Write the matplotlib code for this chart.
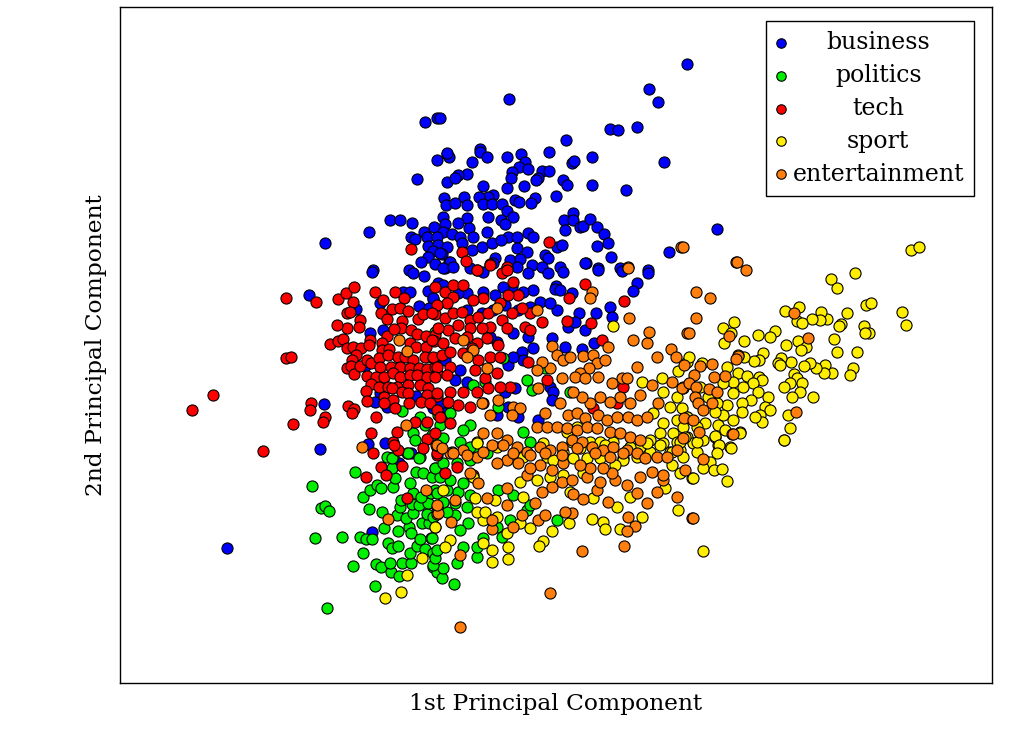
import matplotlib
matplotlib.use("Agg")
import matplotlib.pyplot as plt
import numpy as np

# Principal-component scores (PC1, PC2); PC2 axis shown inverted
categories = ["business", "politics", "tech", "sport", "entertainment"]
colors = ["#0000ff", "#00ee00", "#ff0000", "#ffee00", "#ff7f0e"]

business = [
    (425,122),(437,118),(447,154),(449,157),(437,160),(417,179),(447,182),(444,198),(446,205),(443,217),
    (445,224),(390,220),(400,220),(412,223),(369,232),(325,243),(424,232),(434,227),(443,232),(411,237),
    (415,239),(427,237),(437,237),(428,246),(438,245),(447,247),(433,251),(442,254),(428,257),(421,262),
    (435,264),(449,262),(373,270),(409,270),(445,268),
    (687,64),(649,89),(658,102),(509,99),(440,118),(610,129),(618,130),(637,127),(566,140),(480,149),
    (480,152),(487,157),(447,153),(472,162),(507,157),(521,154),(525,162),(549,152),(572,163),(574,161),
    (592,157),(664,162),(519,167),(528,169),(512,172),(511,178),(542,171),(549,171),(538,178),(536,180),
    (467,174),(458,175),(455,178),(483,186),(507,188),(524,186),(563,180),(567,185),(592,185),(626,190),
    (556,196),(535,198),(531,203),(515,200),(519,202),(493,195),(488,197),(479,197),(483,204),(492,204),
    (502,204),(464,197),(467,205),(455,203),(507,211),(513,217),(488,217),(501,220),(467,218),(458,223),
    (469,228),(505,224),(573,213),(564,220),(573,220),(580,227),(583,226),(590,219),(565,230),(597,227),
    (604,234),(608,243),(597,246),(611,257),(586,263),(717,229),(669,252),(487,232),(508,237),(517,237),
    (528,233),(533,237),(452,234),(460,237),(473,237),(462,243),(482,247),(492,243),(501,240),(517,248),
    (527,252),(557,247),(562,245),(545,255),(548,258),(440,253),(472,250),(450,262),(495,258),(510,260),
    (520,259),(532,265),(560,267),(598,268),(648,270),(620,268),
    (372,272),(413,273),(424,276),(309,295),(356,309),(380,303),(403,292),(410,292),(428,291),(433,299),
    (419,306),(429,308),(383,330),(370,333),(365,366),(380,393),(375,402),(387,407),(324,404),(320,449),
    (368,444),(385,443),(416,396),(433,408),(437,360),(438,283),
    (443,268),(453,267),(470,268),(483,272),(493,263),(507,268),(517,267),(528,273),(542,267),(548,273),
    (563,272),(585,263),(598,270),(622,271),(648,273),(637,283),(633,291),(556,286),(555,289),(560,290),
    (572,293),(533,290),(523,292),(512,287),(503,287),(495,295),(483,292),(467,293),(458,293),(433,298),
    (443,285),(540,302),(557,310),(550,303),(530,307),(518,310),(505,305),(493,310),(482,313),(467,310),
    (579,313),(596,313),(610,307),(612,317),(568,327),(585,330),(575,322),(552,338),(565,347),(582,349),
    (594,343),(513,333),(528,337),(533,348),(522,352),(523,360),(508,365),(513,357),(497,342),(490,337),
    (445,360),(460,370),(455,380),(467,382),(515,388),(505,392),(550,387),(553,392),(518,417),(508,407),
    (497,415),(552,400),(538,420),(445,413),(433,400),(440,403),
    (411,453),(399,463),(372,532),(227,548),
]

politics = [
    (402,411),(420,417),(413,433),(393,457),(407,453),(420,457),(387,457),(425,425),(440,425),(415,440),
    (503,358),(485,382),(473,385),(527,380),(532,390),(545,368),(498,407),(438,415),(450,413),(470,425),
    (432,435),(443,438),(460,442),(475,447),(487,453),(523,432),(530,442),(570,392),(435,332),(463,430),
    (355,472),(312,486),(363,497),(369,509),(321,508),(325,506),(329,511),(315,538),(342,537),(360,537),
    (366,539),(372,539),(363,553),(353,566),(375,586),(327,608),(376,564),(381,567),(391,572),(399,576),
    (390,563),(402,563),(411,563),(388,543),(392,548),(398,546),(410,553),(417,546),(425,549),(433,553),
    (433,567),(437,572),(384,528),(398,531),(409,527),(411,533),(420,539),(431,538),(382,512),(397,515),
    (406,518),(413,513),(422,523),(429,523),(427,514),(400,507),(412,504),(419,505),(428,503),(401,500),
    (413,493),(421,497),(431,493),(435,490),(410,483),(393,487),(370,490),(377,485),(381,488),(395,478),
    (392,468),(416,472),(423,473),(432,477),(435,468),(419,458),(408,453),(392,458),
    (454,584),(442,578),(443,568),(433,565),(435,558),(437,550),(457,563),(463,547),(477,557),(477,547),
    (483,538),(468,523),(460,530),(455,515),(447,512),(433,517),(432,538),(443,502),(455,503),(467,507),
    (470,495),(458,492),(447,490),(437,493),(463,483),(450,480),(440,477),(435,468),(443,463),(457,463),
    (470,460),(452,452),(470,447),(437,447),(497,527),(502,537),(510,520),(527,510),(530,505),(557,520),
    (498,490),(513,495),
]

tech = [
    (549,242),(462,252),(466,261),(490,264),(507,267),(477,270),(411,249),
    (286,298),(316,302),(338,299),(346,293),(354,287),(353,302),(375,292),(383,300),(395,292),(404,298),
    (347,313),(350,312),(360,320),(359,327),(347,328),(337,325),(381,313),(387,319),(392,309),(400,308),
    (408,311),(402,321),(418,319),(423,314),(435,314),(401,328),(411,330),(417,334),(426,336),(435,335),
    (387,336),(394,329),(330,344),(338,341),(343,339),(347,348),(353,347),(361,348),(370,340),(369,345),
    (382,343),(382,350),(389,349),(410,343),(416,347),(426,347),(434,341),(356,355),(352,360),(347,368),
    (351,366),(354,374),(360,366),(367,360),(371,363),(379,358),(388,355),(398,357),(405,357),(413,360),
    (425,357),(433,358),(380,367),(391,367),(400,367),(410,368),(419,368),(427,369),(435,367),(367,376),
    (376,377),(384,377),(393,373),(400,377),(410,375),(417,375),(427,377),(437,373),(371,384),(379,387),
    (388,387),(397,387),(408,385),(420,385),(428,388),(366,391),(392,388),(402,392),(408,393),(427,395),
    (437,396),(384,397),(393,400),(409,403),(421,402),(430,403),(367,401),(384,403),(395,408),(348,406),
    (354,409),(352,413),(311,403),(310,410),(325,417),(323,422),(293,424),(286,358),(291,357),(213,395),
    (192,410),(263,451),(376,417),(415,422),(427,422),(371,433),(397,432),(393,442),(427,439),(435,433),
    (373,453),(398,450),(423,448),
    (435,287),(445,292),(453,285),(463,285),(477,270),(490,265),(502,273),(507,270),(513,282),(518,295),
    (508,295),(483,298),(473,300),(453,297),(447,303),(437,305),(432,313),(445,318),(453,313),(462,312),
    (470,320),(478,317),(488,313),(500,303),(512,313),(502,320),(490,327),(482,328),(470,328),(458,325),
    (448,330),(438,328),(432,340),(443,343),(455,338),(467,337),(477,343),(487,338),(498,345),(507,328),
    (525,327),(542,322),(530,313),(433,357),(442,355),(450,352),(463,353),(472,348),(490,357),(478,360),
    (500,357),(437,367),(450,367),(435,377),(447,375),(475,370),(485,378),(497,373),(510,387),(500,387),
    (488,388),(477,392),(463,392),(450,392),(437,393),(458,405),(470,407),(483,403),(448,402),(437,410),
    (450,423),(440,417),(528,362),(522,308),(585,284),(569,298),(567,321),(591,323),(624,301),(602,340),
    (547,380),(623,387),(617,403),(593,408),(530,330),
    (394,445),(437,455),(381,467),(386,475),(366,477),(402,466),(407,498),
    (437,453),(445,473),(457,467),(473,475),
]

sport = [
    (613,326),(678,371),(687,362),(662,378),(642,382),(663,392),(677,397),(683,387),(670,407),(682,408),
    (653,413),(663,423),(677,420),(687,417),(660,433),(673,433),(650,440),(663,443),(677,442),(687,437),
    (650,452),(670,452),(680,450),(572,442),(580,448),(563,452),(590,442),(600,442),(613,442),(630,447),
    (640,447),(567,432),(577,427),(477,442),(497,447),(547,457),(623,458),(637,457),
    (911,250),(919,247),(855,273),(831,279),(837,288),(866,305),(871,303),(902,312),(906,325),(864,326),
    (869,333),(865,333),(847,313),(841,324),(839,326),(827,319),(821,312),(820,320),(812,319),(799,307),
    (797,321),(802,323),(785,311),(834,339),(837,352),(857,352),(853,368),(850,375),(832,373),(825,365),
    (824,373),(816,368),(810,363),(804,366),(798,341),(806,347),(801,350),(786,345),(791,362),(781,358),
    (778,363),(780,365),(794,374),(797,378),(802,383),(790,383),(784,387),(800,392),(792,397),(813,397),
    (788,415),(790,428),(784,440),(775,331),(770,337),(758,335),(744,341),(734,322),(723,328),(731,333),
    (724,343),(763,353),(759,360),(754,361),(744,357),(738,355),(727,367),(738,373),(747,376),(759,377),
    (762,380),(753,383),(743,387),(733,382),(723,383),(758,392),(768,397),(751,400),(742,403),(733,393),
    (727,405),(717,403),(708,397),(700,387),(690,383),(683,388),(689,357),(702,363),(765,407),(770,410),
    (760,415),(762,422),(755,417),(742,412),(733,420),(723,415),(715,412),(705,423),(697,427),(687,417),
    (683,427),(718,425),(725,430),(740,432),(715,437),(703,440),(693,443),(730,447),(718,445),(685,437),
    (435,527),(422,558),(407,575),(401,592),(385,598),
    (703,551),(678,510),(642,517),(620,529),(592,519),(603,522),(605,529),(569,523),(552,531),(543,541),
    (539,546),(530,528),(508,559),(492,562),(492,550),(508,547),(483,543),(491,520),(507,533),(483,520),
    (477,512),(475,498),(485,512),(497,517),(520,523),(450,540),(445,547),(435,527),(443,490),(473,477),
    (495,500),(520,482),(523,497),(570,492),(593,498),(617,507),(630,497),(665,488),(692,478),(680,473),
    (672,465),(683,457),(697,452),(707,462),(623,460),(615,465),(583,473),(563,475),(550,477),(537,480),
    (600,458),(587,458),(605,445),(630,447),(647,443),(660,445),(672,452),(697,442),(680,442),(543,443),
    (553,460),(573,458),(477,443),(523,457),
    (715,436),(719,445),(731,448),(717,453),(710,462),(703,468),(714,470),(722,469),(693,478),(727,481),
    (740,433),(784,440),
]

entertainment = [
    (681,247),(736,262),(628,267),
    (399,340),(407,351),(406,425),(362,447),(436,445),
    (497,308),(537,310),(592,292),(590,298),(628,268),(629,318),(608,347),(633,340),(647,343),(649,332),
    (687,333),(671,349),(676,357),(657,357),(637,367),(622,378),(627,378),(652,385),(640,395),(630,403),
    (658,403),(672,382),(682,388),(552,346),(557,355),(563,360),(570,357),(583,356),(593,355),(597,363),
    (605,360),(589,368),(580,373),(575,377),(585,378),(598,377),(612,383),(620,397),(610,402),(600,397),
    (590,403),(582,397),(573,392),(562,378),(550,368),(542,362),(537,370),(538,388),(560,403),(568,415),
    (577,413),(585,418),(598,415),(607,420),(617,417),(628,417),(637,420),(647,417),(545,413),(537,427),
    (547,427),(557,427),(567,428),(577,430),(587,427),(597,428),(610,432),(620,433),(630,437),(640,440),
    (513,407),(520,408),(512,415),(497,433),(507,440),(517,447),(527,452),(540,447),(550,450),(562,447),
    (572,440),(582,442),(592,447),(603,450),(613,447),(627,450),(483,433),(492,445),(477,457),(463,450),
    (450,453),(437,445),(487,368),(482,403),(490,415),(473,350),(463,340),(498,400),(467,357),
    (794,313),(808,338),(796,412),(737,262),(746,270),(696,292),(710,298),(696,318),(689,333),(729,336),
    (738,356),(736,359),(683,247),(712,364),(700,366),(684,365),(694,375),(714,377),(725,376),(689,383),
    (709,389),(717,392),(696,387),(695,397),(698,403),(712,403),(703,410),(684,418),(693,420),(699,432),
    (732,434),(683,438),
    (426,490),(388,519),(437,507),(437,514),
    (460,627),(550,593),(582,551),(624,546),(628,517),(635,526),(627,531),(677,497),(692,518),(657,492),
    (647,503),(663,480),(637,493),(608,502),(597,490),(583,499),(573,494),(572,513),(565,512),(538,520),
    (545,515),(535,503),(522,515),(513,527),(492,529),(451,522),(438,513),(460,555),(487,498),(478,483),
    (470,473),(507,488),(527,475),(542,492),(552,487),(562,482),(572,480),(587,477),(600,482),(615,480),
    (627,485),(640,477),(652,472),(663,475),(612,473),(603,468),(590,468),(580,465),(563,463),(552,470),
    (540,465),(530,468),(518,463),(507,460),(497,463),(513,453),(530,455),(545,453),(562,455),(577,448),
    (595,453),(610,457),(623,453),(637,453),(645,458),(657,457),(667,457),(677,450),(685,470),(483,452),
    (503,445),(467,455),(453,453),(442,448),(437,505),(455,500),(492,520),(507,505),
    (733,434),(703,459),(693,518),
]

series = [business, politics, tech, sport, entertainment]

plt.rcParams["font.family"] = ["DejaVu Serif"]
fig = plt.figure(figsize=(10.2, 7.5), dpi=100)
ax = fig.add_axes([120/1020, 67/750, 872/1020, 676/750])

for name, col, pts in zip(categories, colors, series):
    arr = np.array(pts, dtype=float)
    ax.scatter(arr[:, 0], arr[:, 1], s=64, c=col, edgecolors="black",
               linewidths=0.8, label=name)

ax.set_xlim(120, 992)
ax.set_ylim(683, 7)
ax.set_xticks([])
ax.set_yticks([])
for sp in ax.spines.values():
    sp.set_linewidth(1.0)

ax.set_xlabel("1st Principal Component", fontsize=16.8, labelpad=7)
ax.set_ylabel("2nd Principal Component", fontsize=16.8, labelpad=9)

leg = ax.legend(loc="upper right", bbox_to_anchor=((974-120)/872, (683-21)/676),
                borderaxespad=0, fontsize=17, frameon=True, fancybox=False,
                edgecolor="black", framealpha=1, handlelength=0.4, handletextpad=0.3,
                borderpad=0.42, labelspacing=0.42, scatterpoints=1, markerscale=0.85)
leg.get_frame().set_linewidth(1.0)

fig.canvas.draw()
r = fig.canvas.get_renderer()
texts = leg.get_texts()
ws = [t.get_window_extent(r).width for t in texts]
mw = max(ws)
for t, w in zip(texts, ws):
    t.set_position(((mw - w) / 2, 0))

fig.savefig("out.png", dpi=100)
